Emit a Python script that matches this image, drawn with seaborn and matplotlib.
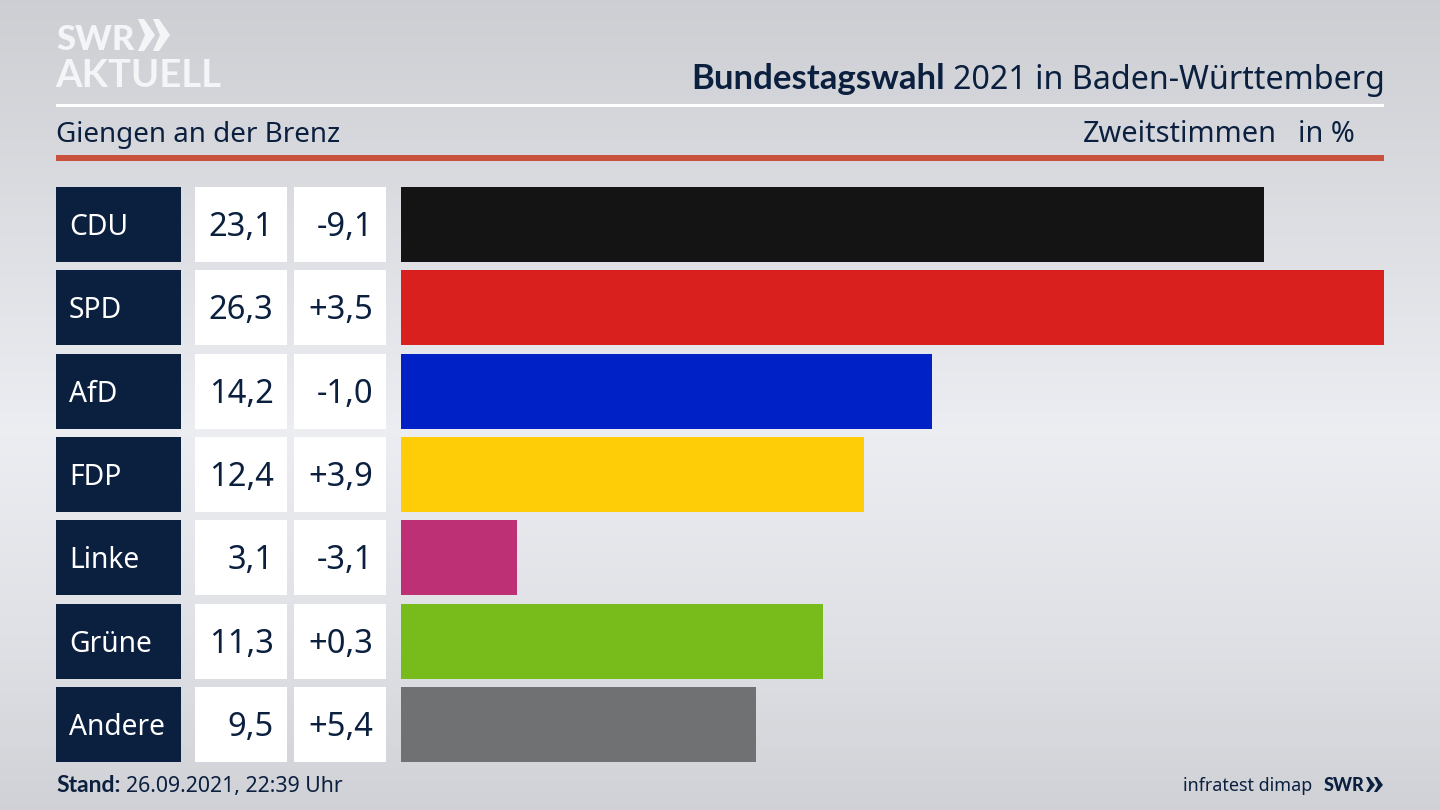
import numpy as np
import pandas as pd
import matplotlib.pyplot as plt
from matplotlib.patches import Rectangle, Polygon
import seaborn as sns

sns.set_theme(style="white")
plt.rcParams['font.family'] = ['Noto Sans', 'DejaVu Sans']

parties = ['CDU', 'SPD', 'AfD', 'FDP', 'Linke', 'Grüne', 'Andere']
shares = [23.1, 26.3, 14.2, 12.4, 3.1, 11.3, 9.5]
share_labels = ['23,1', '26,3', '14,2', '12,4', '3,1', '11,3', '9,5']
diff_labels = ['-9,1', '+3,5', '-1,0', '+3,9', '-3,1', '+0,3', '+5,4']
colors = ['#141414', '#d9201f', '#0021c6', '#ffcc08', '#bd3075', '#78bc1b', '#707173']

navy = '#0b1f3f'
df = pd.DataFrame({'party': parties, 'share': shares})

fig = plt.figure(figsize=(14.4, 8.1), dpi=100)

# background and all the text, in pixels
bg = fig.add_axes([0, 0, 1, 1])
bg.set_xlim(0, 1440)
bg.set_ylim(810, 0)
bg.axis('off')
stops_y = [0, 120, 430, 640, 810]
stops_v = [0.805, 0.835, 0.925, 0.875, 0.815]
grad = np.interp(np.arange(810), stops_y, stops_v)
rgb = np.stack([grad, grad + 0.006, grad + 0.024], axis=1).clip(0, 1)[:, None, :]
bg.imshow(rgb, extent=[0, 1440, 810, 0], aspect='auto', zorder=0)

# header
bg.add_patch(Rectangle((56, 104), 1328, 3, color='white', lw=0))
bg.add_patch(Rectangle((56, 155), 1328, 5.5, color='#c9503d', lw=0))
bg.text(56, 50, 'SWR', color='#f4f5f7', fontsize=25, fontweight='black', va='baseline', family='Lato', zorder=3)
bg.text(55, 87, 'AKTUELL', color='#f4f5f7', fontsize=27.5, fontweight='bold', va='baseline', family='Lato', zorder=3)
for x0 in (138, 153):
    bg.add_patch(Polygon([(x0, 19), (x0 + 6, 19), (x0 + 17, 35), (x0 + 6, 51), (x0, 51), (x0 + 7, 35)],
                         color='#f4f5f7', lw=0, zorder=3))

bg.text(945, 89, 'Bundestagswahl', color=navy, fontsize=25, fontweight='bold', ha='right', va='baseline', family='Lato')
bg.text(953, 89, '2021 in Baden-Württemberg', color=navy, fontsize=23.2, ha='left', va='baseline')
bg.text(56, 142, 'Giengen an der Brenz', color=navy, fontsize=20, va='baseline')
bg.text(1277, 142, 'Zweitstimmen', color=navy, fontsize=20.8, ha='right', va='baseline')
bg.text(1355, 142, 'in %', color=navy, fontsize=20.8, ha='right', va='baseline')

# table boxes left of the bars
row_h = 75
step = 83.33
for i, party in enumerate(parties):
    top = 187 + i * step
    mid = top + row_h / 2 + 10.5
    bg.add_patch(Rectangle((56, top), 125, row_h, color=navy, lw=0))
    bg.add_patch(Rectangle((195, top), 92, row_h, color='white', lw=0))
    bg.add_patch(Rectangle((294, top), 92, row_h, color='white', lw=0))
    bg.text(69, mid, party, color='white', fontsize=20.3, va='baseline')
    bg.text(273.5, mid + 1, share_labels[i], color=navy, fontsize=23.5, ha='right', va='baseline')
    bg.text(373, mid + 1, diff_labels[i], color=navy, fontsize=23.5, ha='right', va='baseline')

# footer
bg.text(56, 792, 'Stand:', color=navy, fontsize=16.5, fontweight='bold', va='baseline', family='Lato')
bg.text(126, 792, '26.09.2021, 22:39 Uhr', color=navy, fontsize=15.3, va='baseline')
bg.text(1312, 791, 'infratest dimap', color=navy, fontsize=12.9, ha='right', va='baseline')
bg.text(1324, 791, 'SWR', color=navy, fontsize=13, fontweight='black', va='baseline', family='Lato')
for x0 in (1366, 1374):
    bg.add_patch(Polygon([(x0, 777), (x0 + 3, 777), (x0 + 9, 785), (x0 + 3, 792), (x0, 792), (x0 + 4, 785)],
                         color=navy, lw=0))

# bars
left, right = 401, 1384
top_px, bot_px = 187 - 4.17, 762 + 4.17
ax = fig.add_axes([left / 1440, 1 - bot_px / 810, (right - left) / 1440, (bot_px - top_px) / 810])
ax.patch.set_alpha(0)
sns.barplot(data=df, x='share', y='party', hue='party', palette=colors, order=parties,
            width=0.9, legend=False, saturation=1, linewidth=0, ax=ax)
ax.set_xlim(0, 26.3)
ax.set_xlabel('')
ax.set_ylabel('')
ax.set_xticks([])
ax.set_yticks([])
sns.despine(ax=ax, left=True, bottom=True)

plt.savefig('out.png', dpi=100)
